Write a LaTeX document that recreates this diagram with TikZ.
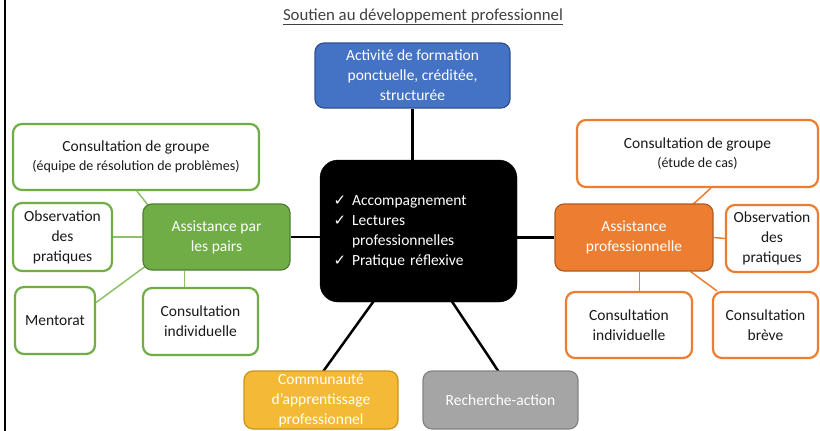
\documentclass[tikz,border=0pt]{standalone}
\usepackage{fontspec}
\setmainfont{Carlito}
\newfontfamily\symfont{DejaVu Sans}
\usetikzlibrary{backgrounds}
\definecolor{cblue}{HTML}{4472C4}
\definecolor{cblueD}{HTML}{2F528F}
\definecolor{cgreen}{HTML}{70AD47}
\definecolor{cgreenD}{HTML}{507E32}
\definecolor{cgreenL}{HTML}{8CC168}
\definecolor{corange}{HTML}{ED7D31}
\definecolor{corangeD}{HTML}{AE5A21}
\definecolor{cyellow}{HTML}{F4B936}
\definecolor{cyellowD}{HTML}{C9951E}
\definecolor{cgray}{HTML}{A5A5A5}
\definecolor{cgrayD}{HTML}{838383}
\definecolor{ctitle}{HTML}{404040}
\definecolor{ctext}{HTML}{1A1A1A}
\newcommand{\ck}{{\symfont\fontsize{15}{15}\selectfont ✓}}
\tikzset{
  box/.style={rounded corners=9pt, align=center, inner sep=0pt,
    font=\fontsize{15.5}{20}\selectfont},
  solidbox/.style={box, line width=1.2pt, text=white},
  greenbox/.style={box, draw=cgreen, line width=2.2pt, fill=white, text=ctext},
  orangebox/.style={box, draw=corange, line width=2.2pt, fill=white, text=ctext},
  gline/.style={draw=cgreenL, line width=1.5pt},
  oline/.style={draw=corange, line width=1.5pt},
  kline/.style={draw=black, line width=2.5pt},
}
\begin{document}
\begin{tikzpicture}[x=1pt,y=-1pt]
\useasboundingbox (0,0) rectangle (820,431);
\draw[line width=2pt] (4.5,0) -- (4.5,431);
\node[font=\fontsize{16.8}{20}\selectfont, text=ctitle] (title) at (423,17) {\underline{Soutien au développement professionnel}};

\node[solidbox, fill=cblue, draw=cblueD, minimum width=195pt, minimum height=65pt] (blue) at (412.5,75.5) {Activité de formation\\ponctuelle, créditée,\\structurée};
\node[box, fill=black, draw=black, rounded corners=18pt, text=white, minimum width=197pt, minimum height=142pt, text width=170pt, inner xsep=13.5pt, align=left] (center) at (418.5,231)
  {\begin{tabular}{@{}l@{\hspace{6pt}}l@{}}\ck & Accompagnement\\ \ck & Lectures\\ & professionnelles\\ \ck & Pratique réflexive\end{tabular}};

\node[solidbox, fill=cgreen, draw=cgreenD, minimum width=147pt, minimum height=66pt] (green) at (216.5,237) {Assistance par\\les pairs};
\node[greenbox, minimum width=246pt, minimum height=66pt] (ggroup) at (136,157) {Consultation de groupe\\[-1pt]{\fontsize{14}{16}\selectfont (équipe de résolution de problèmes)}};
\node[greenbox, minimum width=99pt, minimum height=68pt] (obsL) at (62.5,237) {Observation\\des\\pratiques};
\node[greenbox, minimum width=80pt, minimum height=67pt] (mentorat) at (55,320.5) {Mentorat};
\node[greenbox, minimum width=115pt, minimum height=67pt] (consL) at (200.5,321.5) {Consultation\\individuelle};

\node[solidbox, fill=corange, draw=corangeD, minimum width=158pt, minimum height=67pt] (orange) at (634,237.5) {Assistance\\professionnelle};
\node[orangebox, minimum width=241pt, minimum height=67pt] (ogroup) at (697.5,153.5) {Consultation de groupe\\[-1pt]{\fontsize{14}{16}\selectfont (étude de cas)}};
\node[orangebox, minimum width=92pt, minimum height=67pt] (obsR) at (772,238.5) {Observation\\des\\pratiques};
\node[orangebox, minimum width=126pt, minimum height=66pt] (consR) at (629,325) {Consultation\\individuelle};
\node[orangebox, minimum width=105pt, minimum height=66pt] (breve) at (765.5,325) {Consultation\\brève};

\node[solidbox, fill=cyellow, draw=cyellowD, minimum width=154pt, minimum height=58pt] (yellow) at (321,400) {Communauté\\d’apprentissage\\professionnel};
\node[solidbox, fill=cgray, draw=cgrayD, minimum width=155pt, minimum height=58pt] (gray) at (500.5,400) {Recherche-action};

\begin{scope}[on background layer]
\draw[kline] (blue.south) -- (blue.south |- center.north);
\draw[kline] (green.east) -- (green.east -| center.west);
\draw[kline] (orange.west -| center.east) -- (orange.west);
\draw[kline] ([xshift=56pt,yshift=4pt]center.south west) -- ([yshift=-4pt]yellow.north);
\draw[kline] ([xshift=130pt,yshift=4pt]center.south west) -- ([yshift=-4pt]gray.north);

\draw[gline] ([xshift=125pt]ggroup.south west) -- ([xshift=9pt,yshift=-6pt]green.north west);
\draw[gline] (obsL.east) -- (green.west);
\draw[gline] ([yshift=18pt]mentorat.east) -- ([xshift=8pt,yshift=8pt]green.south west);
\draw[gline] ([xshift=42pt]green.south west) -- ([xshift=42pt]green.south west |- consL.north);

\draw[oline] ([xshift=135pt]ogroup.south west) -- ([xshift=-24pt,yshift=-4pt]orange.north east);
\draw[oline] (orange.east) -- (obsR.west);
\draw[oline] ([xshift=85pt]orange.south west) -- ([xshift=85pt]orange.south west |- consR.north);
\draw[oline] ([xshift=-23pt]orange.south east) -- ([xshift=5pt]breve.north west);
\end{scope}
\end{tikzpicture}
\end{document}
